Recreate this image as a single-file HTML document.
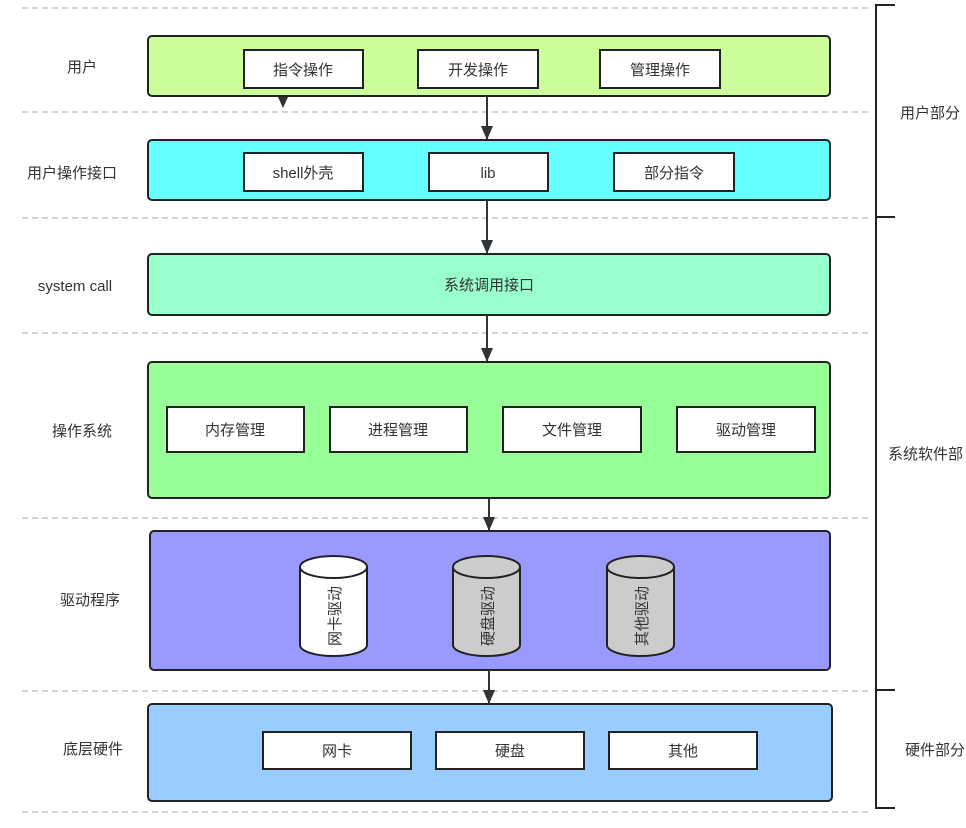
<!DOCTYPE html>
<html><head><meta charset="utf-8"><style>
html,body{margin:0;padding:0;background:#fff;}
svg{display:block;}
text{font-family:"Liberation Sans","Noto Sans CJK SC",sans-serif;font-size:15px;fill:#333;}
</style></head><body>
<svg width="966" height="828" viewBox="0 0 966 828" xmlns="http://www.w3.org/2000/svg">
<defs>
<marker id="ah" markerWidth="12" markerHeight="14" refX="13" refY="6" orient="auto" markerUnits="userSpaceOnUse">
<path d="M0,0 L14,6 L0,12 Z" fill="#333"/></marker>
</defs>
<g stroke="#aaa" stroke-width="1" stroke-dasharray="6,4">
<line x1="22" y1="8" x2="870" y2="8"/>
<line x1="22" y1="112" x2="870" y2="112"/>
<line x1="22" y1="218" x2="870" y2="218"/>
<line x1="22" y1="333" x2="870" y2="333"/>
<line x1="22" y1="518" x2="870" y2="518"/>
<line x1="22" y1="691" x2="870" y2="691"/>
<line x1="22" y1="812" x2="870" y2="812"/>
</g>
<g stroke="#222" stroke-width="2" fill="none">
<polyline points="895,5 876,5 876,808 895,808"/>
<line x1="876" y1="217" x2="895" y2="217"/>
<line x1="876" y1="690" x2="895" y2="690"/>
</g>
<text x="900" y="118">用户部分</text>
<text x="888" y="459">系统软件部</text>
<text x="905" y="755">硬件部分</text>
<g text-anchor="middle">
<text x="82" y="72">用户</text>
<text x="72" y="178">用户操作接口</text>
<text x="75" y="291">system call</text>
<text x="82" y="436">操作系统</text>
<text x="90" y="605">驱动程序</text>
<text x="93" y="754">底层硬件</text>
</g>
<g stroke="#222" stroke-width="2">
<rect x="148" y="36" width="682" height="60" rx="4" fill="#ccff99"/>
<rect x="148" y="140" width="682" height="60" rx="4" fill="#66ffff"/>
<rect x="148" y="254" width="682" height="61" rx="4" fill="#99ffcc"/>
<rect x="148" y="362" width="682" height="136" rx="4" fill="#99ff99"/>
<rect x="150" y="531" width="680" height="139" rx="4" fill="#9999ff"/>
<rect x="148" y="704" width="684" height="97" rx="4" fill="#99ccff"/>
</g>
<g stroke="#222" stroke-width="2" fill="#fff">
<rect x="244" y="50" width="119" height="38"/>
<rect x="418" y="50" width="120" height="38"/>
<rect x="600" y="50" width="120" height="38"/>
<rect x="244" y="153" width="119" height="38"/>
<rect x="429" y="153" width="119" height="38"/>
<rect x="614" y="153" width="120" height="38"/>
<rect x="167" y="407" width="137" height="45"/>
<rect x="330" y="407" width="137" height="45"/>
<rect x="503" y="407" width="138" height="45"/>
<rect x="677" y="407" width="138" height="45"/>
<rect x="263" y="732" width="148" height="37"/>
<rect x="436" y="732" width="148" height="37"/>
<rect x="609" y="732" width="148" height="37"/>
</g>
<g text-anchor="middle">
<text x="303" y="75">指令操作</text>
<text x="478" y="75">开发操作</text>
<text x="660" y="75">管理操作</text>
<text x="303" y="178">shell外壳</text>
<text x="488" y="178">lib</text>
<text x="674" y="178">部分指令</text>
<text x="489" y="290">系统调用接口</text>
<text x="235" y="435">内存管理</text>
<text x="398" y="435">进程管理</text>
<text x="572" y="435">文件管理</text>
<text x="746" y="435">驱动管理</text>
<text x="337" y="756">网卡</text>
<text x="510" y="756">硬盘</text>
<text x="683" y="756">其他</text>
</g>
<g stroke="#222" stroke-width="2">
<path d="M300,567 L300,645 A33.5,11 0 0 0 367,645 L367,567" fill="#fff"/>
<ellipse cx="333.5" cy="567" rx="33.5" ry="11" fill="#fff"/>
<path d="M453,567 L453,645 A33.5,11 0 0 0 520,645 L520,567" fill="#ccc"/>
<ellipse cx="486.5" cy="567" rx="33.5" ry="11" fill="#ccc"/>
<path d="M607,567 L607,645 A33.5,11 0 0 0 674,645 L674,567" fill="#ccc"/>
<ellipse cx="640.5" cy="567" rx="33.5" ry="11" fill="#ccc"/>
</g>
<g text-anchor="middle" style="font-size:16px">
<text transform="translate(334,616) rotate(-90)" dy="6">网卡驱动</text>
<text transform="translate(487,616) rotate(-90)" dy="6">硬盘驱动</text>
<text transform="translate(641,616) rotate(-90)" dy="6">其他驱动</text>
</g>
<g stroke="#333" stroke-width="2" marker-end="url(#ah)">
<line x1="487" y1="96" x2="487" y2="139"/>
<line x1="487" y1="200" x2="487" y2="253"/>
<line x1="487" y1="315" x2="487" y2="361"/>
<line x1="489" y1="498" x2="489" y2="530"/>
<line x1="489" y1="670" x2="489" y2="703"/>
</g>
<path d="M278,97 L288,97 L283,108 Z" fill="#333"/>
</svg>
</body></html>
